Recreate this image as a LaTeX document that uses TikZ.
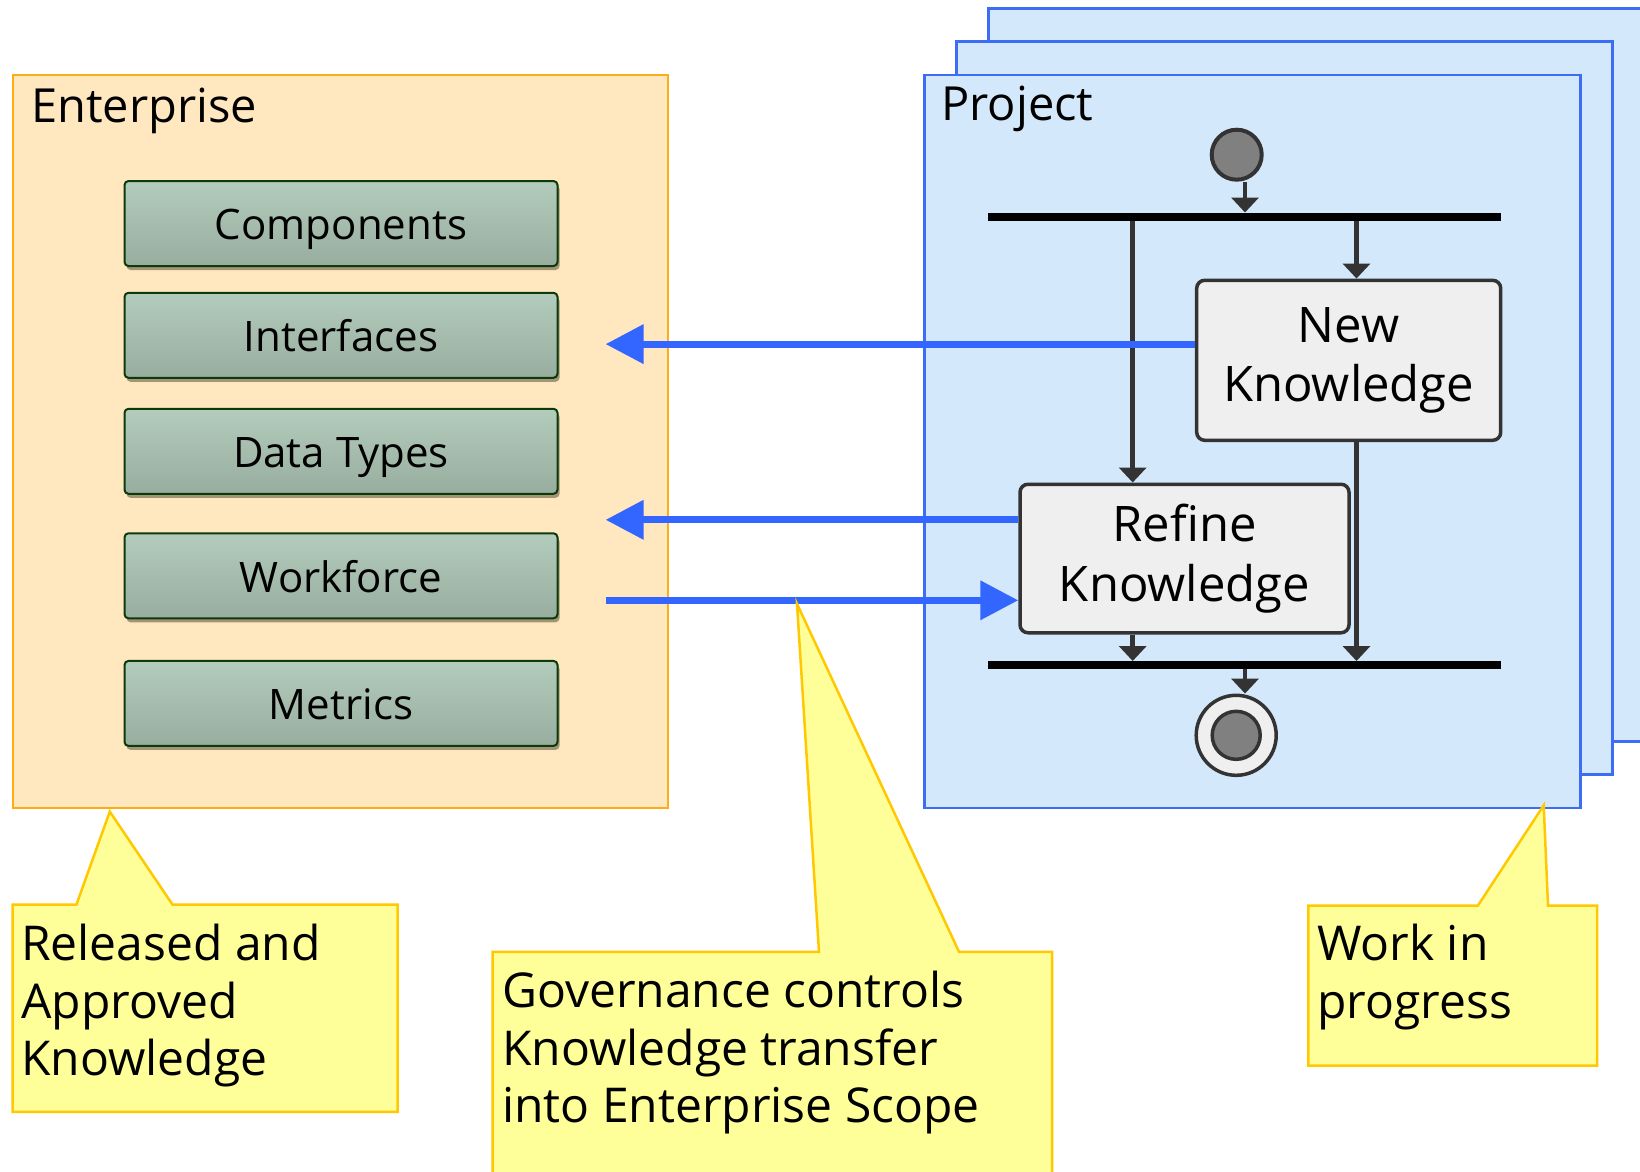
\documentclass[tikz,border=0pt]{standalone}
\usepackage{fontspec}
\setmainfont{Open Sans}
\usetikzlibrary{arrows.meta,calc,shadows}
\definecolor{entfill}{HTML}{FFE8BF}
\definecolor{entdraw}{HTML}{FFAD14}
\definecolor{projfill}{HTML}{D4E8FC}
\definecolor{projdraw}{HTML}{3D6CF5}
\definecolor{arrblue}{HTML}{3366FF}
\definecolor{notefill}{HTML}{FFFF99}
\definecolor{notedraw}{HTML}{FFC800}
\definecolor{actfill}{HTML}{EFEFEF}
\definecolor{darkgr}{HTML}{333333}
\definecolor{dotgray}{HTML}{808080}
\definecolor{gtop}{HTML}{B3CCBC}
\definecolor{gbot}{HTML}{98AD9F}
\definecolor{gdraw}{HTML}{0B3A0B}
\definecolor{gshadow}{HTML}{A39475}
\tikzset{
  container/.style={rectangle, draw=entdraw, fill=entfill, line width=2.5pt, minimum width=655pt, minimum height=733pt, inner sep=0pt},
  projframe/.style={rectangle, draw=projdraw, fill=projfill, line width=2.5pt, minimum width=656pt, minimum height=733pt, inner sep=0pt},
  title/.style={anchor=base west, inner sep=0pt, font=\fontsize{47}{57}\selectfont},
  compbox/.style={rectangle, rounded corners=4pt, draw=gdraw, line width=2pt, top color=gtop, bottom color=gbot, minimum width=433pt, minimum height=85pt, text height=40pt, text depth=7.6pt, font=\fontsize{42}{50}\selectfont, drop shadow={shadow xshift=2pt, shadow yshift=-4pt, fill=gshadow, opacity=1}},
  actbox/.style={rectangle, rounded corners=8pt, draw=darkgr, line width=3.5pt, fill=actfill, align=center, inner sep=0pt, font=\fontsize{49}{59.5}\selectfont},
  bar/.style={rectangle, fill=black, minimum width=513pt, minimum height=8pt, inner sep=0pt},
  darr/.style={draw=darkgr, line width=4.5pt, -{Triangle[length=15pt,width=27pt]}},
  barr/.style={draw=arrblue, line width=7pt, -{Triangle[length=38pt,width=38pt]}},
  note/.style={draw=notedraw, fill=notefill, line width=2.5pt, line join=miter},
  notetext/.style={anchor=north west, align=left, inner sep=0pt, font=\fontsize{48}{57.5}\selectfont},
}
\begin{document}
\begin{tikzpicture}[x=1pt,y=-1pt]
\useasboundingbox (0,0) rectangle (1640,1171);
\clip (0,0) rectangle (1640,1171);
\fill[white] (0,0) rectangle (1640,1171);

% Enterprise container
\node[container] (enterprise) at (340.5,441.5) {};
\node[title] (enttitle) at (31,122) {Enterprise};
\node[compbox] (components) at (341,223.5) {Components};
\node[compbox] (interfaces) at (341,335.3) {Interfaces};
\node[compbox] (datatypes) at (341,451.3) {Data Types};
\node[compbox] (workforce) at (341,575.8) {Workforce};
\node[compbox] (metrics) at (341,703.4) {Metrics};

% Project stack
\node[projframe] (proj3) at (1316.5,375) {};
\node[projframe] (proj2) at (1284.5,408) {};
\node[projframe] (proj1) at (1252.5,441.5) {};
\node[title] (projtitle) at (941,120) {Project};

% activity
\coordinate (xl) at (1132.7,0);
\coordinate (xm) at (1245,0);
\coordinate (xr) at (1356.5,0);
\node[circle, fill=dotgray, draw=darkgr, line width=4pt, minimum size=50pt, inner sep=0pt] (init) at (1236.7,154.7) {};
\node[bar] (fork) at (1244.5,216.7) {};
\node[bar] (join) at (1244.5,665.2) {};
\node[actbox, minimum width=304pt, minimum height=160pt] (new) at (1348.7,360.3) {New\\Knowledge};
\node[actbox, minimum width=329pt, minimum height=148.5pt] (refine) at (1184.5,558.5) {Refine\\Knowledge};
\node[circle, fill=actfill, draw=darkgr, line width=3.5pt, minimum size=80pt, inner sep=0pt] (final) at (1236.2,735.3) {};
\node[circle, fill=dotgray, draw=darkgr, line width=3.5pt, minimum size=48pt, inner sep=0pt] (finalin) at (final) {};

\draw[darr] (init.south -| xm) -- (fork.north -| xm);
\draw[darr] (fork.south -| xl) -- (refine.north -| xl);
\draw[darr] (fork.south -| xr) -- (new.north -| xr);
\draw[darr] (refine.south -| xl) -- (join.north -| xl);
\draw[darr] (new.south -| xr) -- (join.north -| xr);
\draw[darr] (join.south -| xm) -- (final.north -| xm);

% blue transfer arrows
\coordinate (tipA) at (605.6,344.1);
\coordinate (tipB) at (605.6,519.8);
\coordinate (startC) at (605.6,600.3);
\draw[barr] (new.west |- tipA) -- (tipA);
\draw[barr] (refine.west |- tipB) -- (tipB);
\draw[barr] (startC) -- (refine.west |- startC);

% callouts
\draw[note] (12.5,904.7) -- (76.4,904.7) -- (109.8,811.6) -- (172.6,904.7) -- (397.5,904.7) -- (397.5,1111.8) -- (12.5,1111.8) -- cycle;
\node[notetext] (note1) at (21,924) {Released and\\Approved\\Knowledge};

\draw[note] (492.6,951.8) -- (819,951.8) -- (797,603.8) -- (959,951.8) -- (1052.2,951.8) -- (1052.2,1185) -- (492.6,1185) -- cycle;
\node[notetext] (note2) at (502,971) {Governance controls\\Knowledge transfer\\into Enterprise Scope};

\draw[note] (1308.4,905.7) -- (1477.8,905.7) -- (1543.7,805.3) -- (1548,905.7) -- (1597.1,905.7) -- (1597.1,1065.7) -- (1308.4,1065.7) -- cycle;
\node[notetext] (note3) at (1317,924) {Work in\\progress};
\end{tikzpicture}
\end{document}
